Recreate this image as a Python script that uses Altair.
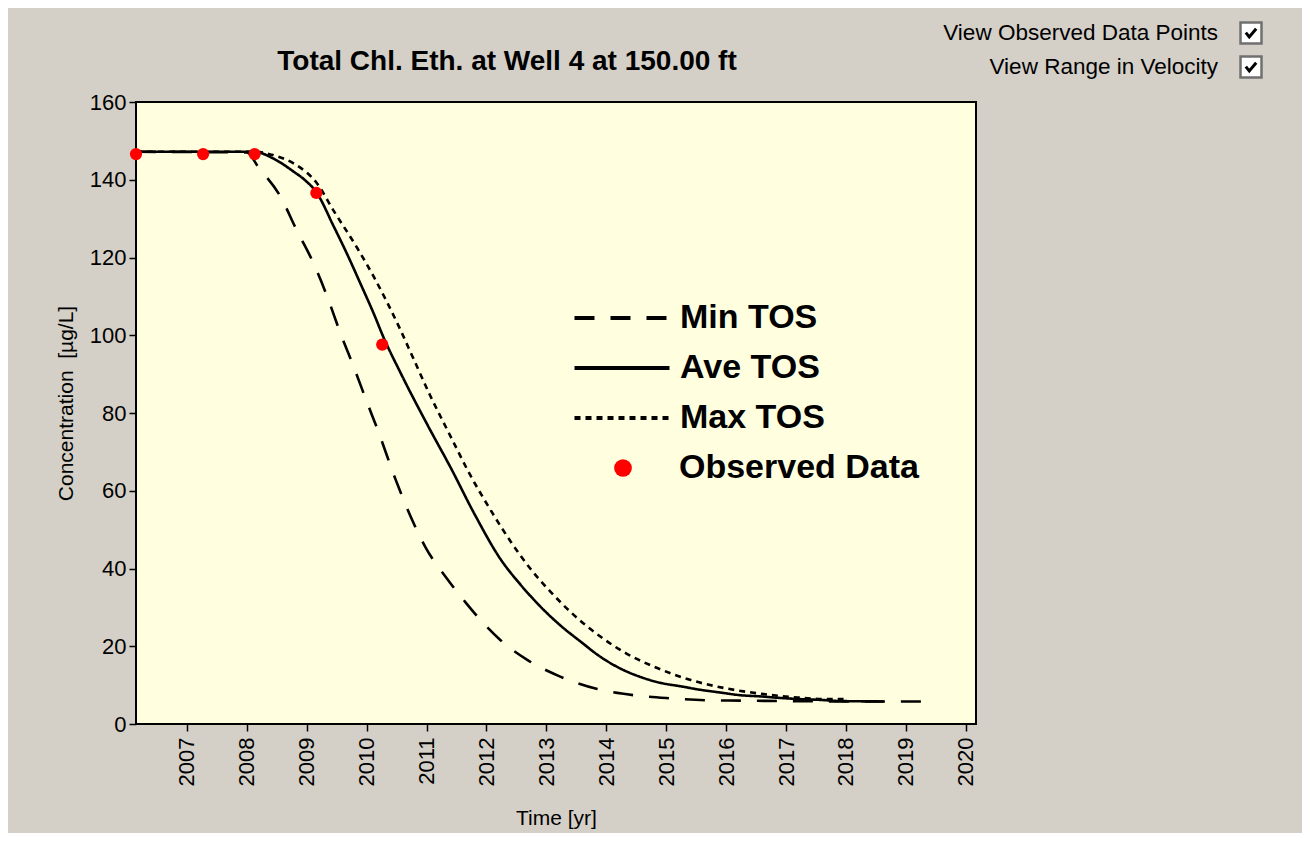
import altair as alt
import pandas as pd

# ---------------- data ----------------
series_names = ["Min TOS", "Ave TOS", "Max TOS"]

min_year = [2006.15, 2008.00, 2008.19, 2008.56, 2008.83, 2009.11, 2009.34, 2009.56, 2009.78,
            2010.00, 2010.20, 2010.48, 2010.73, 2010.98, 2011.32, 2011.65, 2011.95, 2012.23,
            2012.68, 2013.23, 2013.85, 2014.46, 2015.07, 2015.71, 2016.32, 2017.00, 2018.00, 2019.33]
min_val = [147.2, 147.0, 143.3, 135.7, 127.1, 118.6, 110.0, 100.6, 92.0,
           83.0, 75.0, 63.0, 53.5, 45.5, 37.8, 31.3, 25.9, 21.6,
           16.5, 12.2, 9.0, 7.4, 6.6, 6.1, 6.0, 5.9, 5.8, 5.8]

ave_year = [2006.15, 2008.12, 2008.45, 2008.78, 2008.97, 2009.16, 2009.45, 2009.67, 2009.89,
            2010.12, 2010.28, 2010.56, 2011.03, 2011.40, 2011.80, 2012.23, 2012.57, 2012.90,
            2013.23, 2013.57, 2013.90, 2014.23, 2014.57, 2014.90, 2015.24, 2015.57, 2015.90,
            2016.24, 2016.57, 2016.90, 2017.24, 2017.57, 2017.91, 2018.63]
ave_val = [147.2, 147.2, 145.4, 142.1, 139.9, 136.8, 128.0, 121.0, 113.5,
           105.5, 99.5, 90.5, 76.5, 66.0, 54.0, 42.5, 35.8, 30.2,
           25.4, 21.2, 17.3, 14.3, 12.1, 10.6, 9.7, 8.8, 8.1,
           7.4, 7.1, 6.7, 6.4, 6.2, 5.9, 5.8]

max_year = [2006.15, 2008.15, 2008.42, 2008.78, 2009.17, 2009.45, 2009.84, 2010.12, 2010.34,
            2010.56, 2010.78, 2011.06, 2011.40, 2011.73, 2012.07, 2012.40, 2012.73, 2013.07,
            2013.46, 2013.90, 2014.35, 2014.85, 2015.41, 2016.02, 2016.57, 2017.13, 2017.68, 2017.96]
max_val = [147.2, 147.2, 146.4, 144.2, 139.1, 132.0, 122.5, 115.0, 108.5,
           101.5, 94.0, 84.5, 74.0, 64.0, 55.0, 47.0, 40.0, 34.0,
           28.0, 22.5, 18.0, 14.4, 11.3, 9.1, 7.8, 6.9, 6.4, 6.4]

obs_year = [2006.15, 2007.27, 2008.13, 2009.16, 2010.26]
obs_val = [146.6, 146.6, 146.6, 136.6, 97.6]
obs_label = "Observed Data"

x_ticks = list(range(2007, 2021))
y_ticks = list(range(0, 161, 10))

title_text = "Total Chl. Eth. at Well 4 at 150.00 ft"
x_title = "Time [yr]"
y_title = "Concentration\u00a0\u00a0[µg/L]"
checkbox_labels = ["View Observed Data Points", "View Range in Velocity"]

# ---------------- tables ----------------
rows = []
for name, ys, vs in [("Min TOS", min_year, min_val), ("Ave TOS", ave_year, ave_val),
                     ("Max TOS", max_year, max_val)]:
    for y, v in zip(ys, vs):
        rows.append({"series": name, "year": y, "value": v})
lines_df = pd.DataFrame(rows)
obs_df = pd.DataFrame({"year": obs_year, "value": obs_val, "kind": [obs_label] * len(obs_year)})

FONT = "Liberation Sans"
W, H = 840, 622

x_enc = alt.X("year:Q",
              scale=alt.Scale(domain=[2006.15, 2020.17], nice=False, zero=False),
              axis=alt.Axis(values=x_ticks, format="d", labelAngle=270, title=x_title,
                            labelFontSize=22, titleFontSize=21, titleFontWeight="normal",
                            labelPadding=6, titlePadding=22, tickSize=7, tickWidth=1.5,
                            tickColor="black", labelColor="black", titleColor="black",
                            domain=False, grid=False, labelFont=FONT, titleFont=FONT))
y_enc = alt.Y("value:Q",
              scale=alt.Scale(domain=[0, 160], nice=False),
              axis=alt.Axis(values=y_ticks,
                            labelExpr="datum.value % 20 === 0 ? datum.label : ''",
                            title=y_title, labelFontSize=22, titleFontSize=21,
                            titleFontWeight="normal", labelPadding=3, titlePadding=13,
                            titleY=301,
                            tickSize=7, tickWidth=1.5, tickColor="black",
                            labelColor="black", titleColor="black", domain=False,
                            grid=False, labelFont=FONT, titleFont=FONT))

lines = alt.Chart(lines_df).mark_line(color="black", strokeWidth=2.6, interpolate="monotone").encode(
    x=x_enc, y=y_enc,
    strokeDash=alt.StrokeDash(
        "series:N",
        scale=alt.Scale(domain=series_names, range=[[20, 16], [1, 0], [6, 5]]),
        legend=alt.Legend(title=None, orient="none", legendX=460, legendY=190,
                          symbolType="M-2,0L2,0", symbolSize=2256, symbolStrokeWidth=4,
                          symbolStrokeColor="black", symbolFillColor="transparent",
                          labelFont=FONT, labelFontSize=34,
                          labelFontWeight="bold", labelColor="black", labelOffset=32,
                          rowPadding=7, padding=0, labelLimit=500)),
)

points = alt.Chart(obs_df).mark_circle(size=150, opacity=1).encode(
    x="year:Q", y="value:Q",
    color=alt.Color("kind:N",
                    scale=alt.Scale(domain=[obs_label], range=["#FF0000"]),
                    legend=alt.Legend(title=None, orient="none", legendX=470, legendY=349,
                                      symbolType="circle", symbolSize=314, symbolOpacity=1,
                                      labelFont=FONT, labelFontSize=34,
                                      labelFontWeight="bold", labelColor="black",
                                      labelOffset=39, padding=0, labelLimit=500)),
)

title_layer = alt.Chart(pd.DataFrame({"t": [title_text]})).mark_text(
    align="center", baseline="middle", font=FONT, fontSize=28, fontWeight="bold",
    color="black").encode(text="t:N", x=alt.value(371), y=alt.value(-40))

# checkbox panel (top right)
cb_layers = []
cb_y = [-69, -35]
for lab, yy in zip(checkbox_labels, cb_y):
    d = pd.DataFrame({"label": [lab]})
    cb_layers.append(alt.Chart(d).mark_text(align="right", baseline="middle", font=FONT,
                                            fontSize=22.5, color="black").encode(
        text="label:N", x=alt.value(1082), y=alt.value(yy)))
    cb_layers.append(alt.Chart(d).mark_point(shape="square", size=441, filled=True,
                                             fill="white", stroke="#707070", strokeWidth=2.5,
                                             opacity=1).encode(
        x=alt.value(1115), y=alt.value(yy)))
    cb_layers.append(alt.Chart(d).mark_point(shape="M-0.6,-0.05L-0.2,0.45L0.6,-0.5",
                                             size=300, filled=False, stroke="black",
                                             strokeWidth=3, opacity=1).encode(
        x=alt.value(1115), y=alt.value(yy)))

chart = alt.layer(lines, points, title_layer, *cb_layers).resolve_legend(
    strokeDash="independent", color="independent"
).properties(
    width=W, height=H,
    background="#D4D0C8",
    padding={"left": 128, "top": 94, "right": 326, "bottom": 109},
    autosize=alt.AutoSizeParams(type="none"),
).configure_view(fill="#FFFFE0", stroke="black", strokeWidth=2)

chart.save("out.html", embed_options={"renderer": "svg", "actions": False})
